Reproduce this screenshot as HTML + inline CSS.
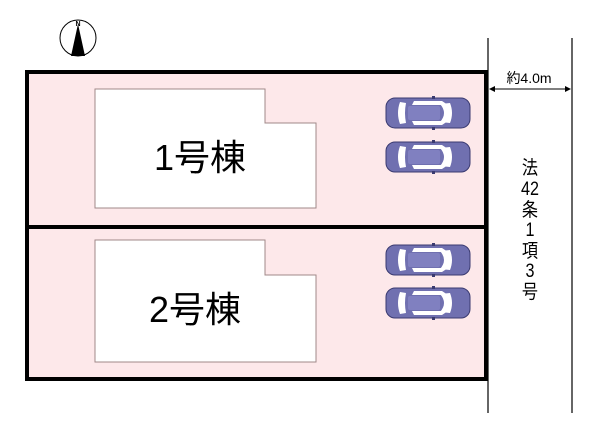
<!DOCTYPE html>
<html><head><meta charset="utf-8"><style>
body{margin:0;background:#fff;}
svg{display:block;}
text{font-family:"Liberation Sans","Noto Sans CJK JP",sans-serif;}
</style></head><body>
<svg width="600" height="433" viewBox="0 0 600 433" xmlns="http://www.w3.org/2000/svg">
<defs>
<g id="car">
<rect x="0" y="2" width="84" height="30" rx="9" fill="#7070b0" stroke="#3a3a70" stroke-width="1"/>
<path d="M14 6 Q10 17 14 28 L20 27 Q18 17 20 7 Z" fill="#fff"/>
<path d="M28 5 L56 5 L62 9 L26 9 Z" fill="#fff"/>
<path d="M28 29 L56 29 L62 25 L26 25 Z" fill="#fff"/>
<path d="M54 8 Q62 17 54 26 L64 27 Q68 17 64 7 Z" fill="#fff"/>
<rect x="22" y="10" width="32" height="14" rx="2" fill="#8080c0"/>
<rect x="46" y="0" width="3" height="3" fill="#3a3a70"/>
<rect x="46" y="31" width="3" height="3" fill="#3a3a70"/>
</g>
</defs>
<rect x="27" y="72" width="459" height="307" fill="#fde8ea"/>
<polygon points="95,89 265,89 265,123 316,123 316,208 95,208" fill="#fff" stroke="#a08888" stroke-width="1"/>
<polygon points="95,240 265,240 265,275 316,275 316,362 95,362" fill="#fff" stroke="#a08888" stroke-width="1"/>
<rect x="27" y="72" width="459" height="307" fill="none" stroke="#000" stroke-width="4"/>
<line x1="27" y1="227" x2="486" y2="227" stroke="#000" stroke-width="4"/>
<text x="200" y="170" font-size="36" text-anchor="middle">1号棟</text>
<text x="195" y="322" font-size="36" text-anchor="middle">2号棟</text>
<use href="#car" x="386" y="96"/>
<use href="#car" x="386" y="140"/>
<use href="#car" x="386" y="243"/>
<use href="#car" x="386" y="286"/>
<line x1="488" y1="38" x2="488" y2="413" stroke="#000" stroke-width="1.2"/>
<line x1="572" y1="38" x2="572" y2="413" stroke="#000" stroke-width="1.2"/>
<line x1="490" y1="89" x2="570" y2="89" stroke="#000" stroke-width="1"/>
<polygon points="489,89 495,86 495,92" fill="#000"/>
<polygon points="571,89 565,86 565,92" fill="#000"/>
<text x="529" y="83" font-size="14" text-anchor="middle">約4.0m</text>
<g font-size="19" text-anchor="middle" transform="translate(530,0) scale(0.85,1)">
<text x="0" y="174">法</text>
<text x="0" y="195" font-size="19">42</text>
<text x="0" y="216">条</text>
<text x="0" y="236" font-size="19">1</text>
<text x="0" y="257">項</text>
<text x="0" y="277" font-size="19">3</text>
<text x="0" y="298">号</text>
</g>
<circle cx="78" cy="38" r="18" fill="#fff" stroke="#000" stroke-width="1"/>
<polygon points="78,24 71,56 85,56" fill="#000"/>
<text x="78" y="26" font-size="7" font-weight="bold" text-anchor="middle" font-family="Liberation Serif">N</text>
</svg>
</body></html>
